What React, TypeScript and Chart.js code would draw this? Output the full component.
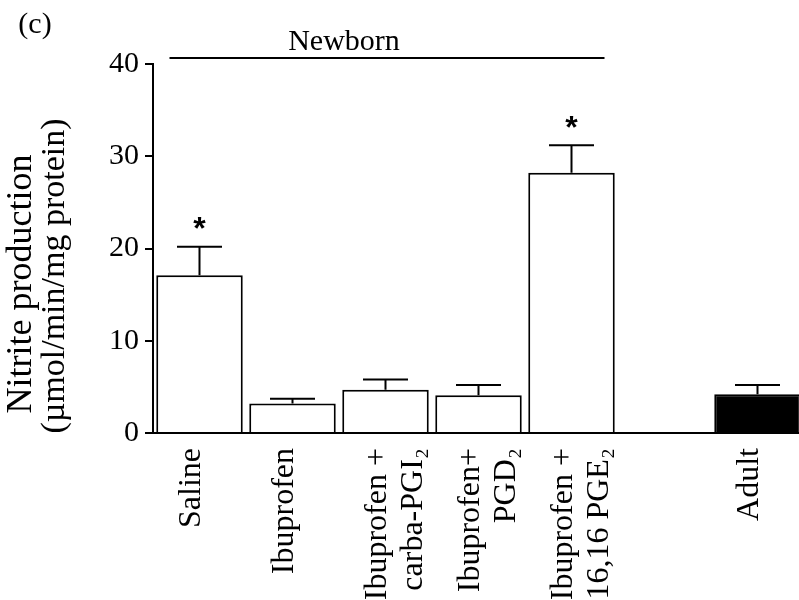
import { useEffect, useRef } from 'react';
import { Chart, registerables } from 'chart.js';

Chart.register(...registerables);

// Treatment groups (one empty slot separates the newborn groups from the adult group)
const categories: (string | string[])[] = [
  'Saline',
  'Ibuprofen',
  ['Ibuprofen +', 'carba-PGI₂'],
  ['Ibuprofen+', 'PGD₂'],
  ['Ibuprofen +', '16,16 PGE₂'],
  '',
  'Adult',
];
const means: (number | null)[] = [17.1, 3.2, 4.7, 4.1, 28.2, null, 4.2];
const sem: (number | null)[] = [3.1, 0.5, 1.1, 1.1, 3.0, null, 1.0];
const significant = [true, false, false, false, true, false, false];
const barFills = ['#ffffff', '#ffffff', '#ffffff', '#ffffff', '#ffffff', '#ffffff', '#000000'];
const yTickValues = [0, 10, 20, 30, 40];
const yTitleLines = ['Nitrite production', '(µmol/min/mg protein)'];
const groupLabel = 'Newborn';
const groupFirst = 0;
const groupLast = 4;
const panelLabel = '(c)';

const SERIF = '"Liberation Serif", "Times New Roman", serif';

const annotations = {
  id: 'annotations',
  afterDatasetsDraw(chart: any) {
    const { ctx, scales } = chart;
    const ys = scales.y;
    const meta = chart.getDatasetMeta(0);
    ctx.save();
    ctx.strokeStyle = '#000';
    ctx.fillStyle = '#000';
    ctx.lineWidth = 2;
    means.forEach((m, i) => {
      const e = sem[i];
      if (m == null || e == null) return;
      const bx = meta.data[i].x;
      const yBar = ys.getPixelForValue(m);
      const yTop = ys.getPixelForValue(m + e);
      ctx.beginPath();
      ctx.moveTo(bx, yBar);
      ctx.lineTo(bx, yTop);
      ctx.moveTo(bx - 22.5, yTop);
      ctx.lineTo(bx + 22.5, yTop);
      ctx.stroke();
      if (significant[i]) {
        ctx.font = 'bold 32px "Liberation Sans", Arial, sans-serif';
        ctx.textAlign = 'center';
        ctx.textBaseline = 'middle';
        ctx.fillText('*', bx, yTop - 16);
      }
    });
    ctx.restore();
  },
  afterDraw(chart: any) {
    const { ctx, scales } = chart;
    const xs = scales.x;
    ctx.save();
    ctx.fillStyle = '#000';
    ctx.strokeStyle = '#000';

    // panel letter
    ctx.font = `30px ${SERIF}`;
    ctx.textAlign = 'center';
    ctx.textBaseline = 'middle';
    ctx.fillText(panelLabel, 35, 25);

    // group bracket over the newborn bars
    const gx0 = xs.getPixelForValue(groupFirst) - 30;
    const gx1 = xs.getPixelForValue(groupLast) + 33;
    ctx.lineWidth = 2;
    ctx.beginPath();
    ctx.moveTo(gx0, 58);
    ctx.lineTo(gx1, 58);
    ctx.stroke();
    ctx.textBaseline = 'alphabetic';
    ctx.fillText(groupLabel, 344, 50);

    // y-axis title, two rotated lines
    ctx.textBaseline = 'middle';
    const lines = [
      { x: 22, y: 284, size: 36 },
      { x: 55, y: 276, size: 34 },
    ];
    yTitleLines.forEach((t, k) => {
      ctx.save();
      ctx.font = `${lines[k].size}px ${SERIF}`;
      ctx.translate(lines[k].x, lines[k].y);
      ctx.rotate(-Math.PI / 2);
      ctx.fillText(t, 0, 0);
      ctx.restore();
    });
    ctx.restore();
  },
};

export default function App() {
  const ref = useRef<HTMLCanvasElement | null>(null);

  useEffect(() => {
    if (!ref.current) return;
    const chart = new Chart(ref.current, {
      type: 'bar',
      data: {
        labels: categories,
        datasets: [
          {
            data: means,
            backgroundColor: barFills,
            borderColor: '#000',
            borderWidth: 2,
            barPercentage: 0.93,
            categoryPercentage: 1,
          },
        ],
      },
      options: {
        responsive: false,
        animation: false,
        devicePixelRatio: 1,
        layout: { padding: { left: 0, right: 16, top: 64, bottom: 0 } },
        plugins: {
          legend: { display: false },
          tooltip: { enabled: false },
          title: { display: false },
        },
        scales: {
          x: {
            offset: true,
            grid: { display: false, drawTicks: false },
            border: { display: true, color: '#000', width: 2 },
            ticks: {
              color: '#000',
              font: { family: SERIF, size: 32, lineHeight: 1.12 },
              minRotation: 90,
              maxRotation: 90,
              autoSkip: false,
              padding: 15,
              labelOffset: -8,
            },
            afterFit(scale: any) {
              scale.height = 167;
            },
          },
          y: {
            min: 0,
            max: 40,
            afterBuildTicks(scale: any) {
              scale.ticks = yTickValues.map((v) => ({ value: v }));
            },
            grid: {
              display: true,
              drawOnChartArea: false,
              drawTicks: true,
              tickLength: 8,
              color: '#000',
              lineWidth: 2,
            },
            border: { display: true, color: '#000', width: 2 },
            ticks: {
              color: '#000',
              font: { family: SERIF, size: 30 },
              padding: 6,
            },
            afterFit(scale: any) {
              scale.width = 153;
            },
          },
        },
      },
      plugins: [annotations],
    });
    return () => chart.destroy();
  }, []);

  return (
    <div
      style={{
        position: 'fixed',
        left: 0,
        top: 0,
        width: 799,
        height: 600,
        overflow: 'hidden',
        background: '#fff',
      }}
    >
      <canvas ref={ref} width={820} height={600} style={{ display: 'block' }} />
    </div>
  );
}
